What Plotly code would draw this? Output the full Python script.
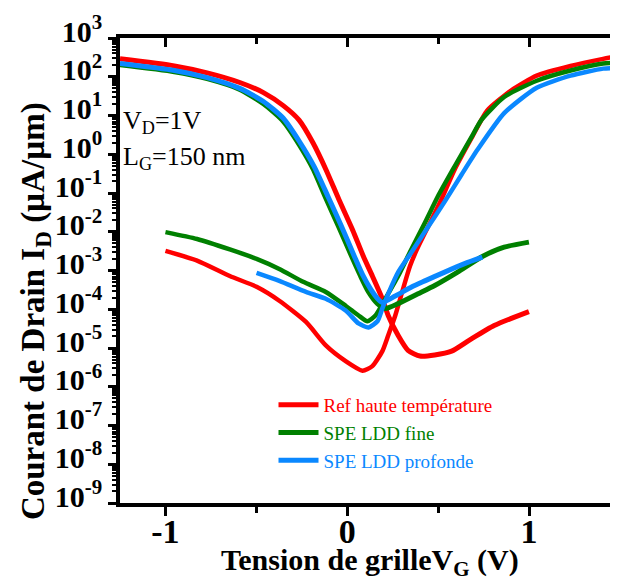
import plotly.graph_objects as go

# ---- data (V_G in V, I_D in uA/um) ----
red_a_x = [-1.25, -0.951, -0.771, -0.591, -0.461, -0.352, -0.265, -0.188, -0.117, -0.046, 0.030, 0.089, 0.138, 0.193, 0.225, 0.280, 0.334, 0.400, 0.481, 0.574, 0.672, 0.808, 0.999]
red_a_y = [290, 190, 126, 71, 39, 18, 7.6, 1.95, 0.40, 0.068, 0.011, 2.3e-3, 7.2e-4, 1.86e-4, 6.9e-5, 2.1e-5, 8.7e-6, 6.2e-6, 6.6e-6, 8.3e-6, 1.6e-5, 3.8e-5, 8.7e-5]

red_b_x = [-1.0, -0.826, -0.646, -0.499, -0.374, -0.227, -0.118, -0.009, 0.084, 0.138, 0.193, 0.225, 0.264, 0.302, 0.345, 0.383, 0.465, 0.525, 0.590, 0.683, 0.770, 0.901, 1.042, 1.228, 1.407, 1.500]
red_b_y = [3.2e-3, 1.8e-3, 7.2e-4, 3.8e-4, 1.66e-4, 4.7e-5, 1.17e-5, 4.6e-6, 2.6e-6, 3.4e-6, 8.3e-6, 2.1e-5, 6.9e-5, 2.8e-4, 1.3e-3, 3.5e-3, 2.1e-2, 8.1e-2, 0.40, 2.6, 13.5, 44, 107, 190, 290, 350]

green_a_x = [-1.25, -0.951, -0.771, -0.591, -0.461, -0.352, -0.265, -0.188, -0.117, -0.046, 0.030, 0.073, 0.117, 0.166, 0.209, 0.280, 0.389, 0.481, 0.607, 0.743, 0.863, 0.999]
green_a_y = [204, 135, 89, 47, 20, 7.1, 1.8, 0.42, 0.072, 0.013, 2.0e-3, 7.2e-4, 2.8e-4, 1.4e-4, 1.05e-4, 1.4e-4, 2.5e-4, 4.1e-4, 9.1e-4, 2.3e-3, 4.0e-3, 5.4e-3]

green_b_x = [-1.0, -0.826, -0.646, -0.499, -0.374, -0.243, -0.118, -0.009, 0.062, 0.111, 0.155, 0.209, 0.280, 0.345, 0.427, 0.498, 0.590, 0.683, 0.737, 0.863, 1.042, 1.228, 1.407, 1.500]
green_b_y = [9.8e-3, 6.5e-3, 3.5e-3, 2.0e-3, 1.1e-3, 5.1e-4, 2.8e-4, 1.23e-4, 6.9e-5, 4.9e-5, 6.9e-5, 1.86e-4, 7.2e-4, 3.0e-3, 1.7e-2, 8.1e-2, 0.48, 2.75, 7.6, 30, 79, 145, 219, 229]

blue_a_x = [-1.25, -0.951, -0.771, -0.591, -0.461, -0.352, -0.265, -0.182, -0.106, -0.035, 0.041, 0.084, 0.127, 0.166, 0.193, 0.264, 0.356, 0.427, 0.536, 0.645, 0.743]
blue_a_y = [219, 145, 95, 50, 23, 8.5, 2.2, 0.48, 0.081, 0.015, 2.2e-3, 7.8e-4, 3.4e-4, 1.9e-4, 1.5e-4, 2.2e-4, 3.8e-4, 5.4e-4, 9.1e-4, 1.5e-3, 2.2e-3]

blue_b_x = [-0.499, -0.374, -0.227, -0.118, -0.009, 0.062, 0.117, 0.166, 0.193, 0.225, 0.280, 0.345, 0.443, 0.536, 0.629, 0.716, 0.863, 1.042, 1.228, 1.407, 1.500]
blue_b_y = [8.7e-4, 5.4e-4, 2.8e-4, 1.86e-4, 9.3e-5, 4.3e-5, 3.4e-5, 4.9e-5, 1.05e-4, 2.5e-4, 9.1e-4, 2.6e-3, 1.3e-2, 6.0e-2, 0.30, 1.3, 11.5, 52, 107, 162, 170]

series_names = ["Ref haute température", "SPE LDD fine", "SPE LDD profonde"]
series_colors = ["#FF0000", "#008000", "#0A88FF"]

y_tickvals = [1e-9, 1e-8, 1e-7, 1e-6, 1e-5, 1e-4, 1e-3, 1e-2, 1e-1, 1e0, 1e1, 1e2, 1e3]
y_ticktext = ["10<sup>-9</sup>", "10<sup>-8</sup>", "10<sup>-7</sup>", "10<sup>-6</sup>", "10<sup>-5</sup>",
              "10<sup>-4</sup>", "10<sup>-3</sup>", "10<sup>-2</sup>", "10<sup>-1</sup>", "10<sup>0</sup>",
              "10<sup>1</sup>", "10<sup>2</sup>", "10<sup>3</sup>"]
x_tickvals = [-1, 0, 1]
x_ticktext = ["-1", "0", "1"]

FONT = "Liberation Serif, Times New Roman, serif"

fig = go.Figure()
curves = [
    (red_a_x, red_a_y, red_b_x, red_b_y),
    (green_a_x, green_a_y, green_b_x, green_b_y),
    (blue_a_x, blue_a_y, blue_b_x, blue_b_y),
]
legend_ids = ["legend", "legend2", "legend3"]
for (ax_, ay_, bx_, by_), name, col, lg in zip(curves, series_names, series_colors, legend_ids):
    fig.add_trace(go.Scatter(x=ax_, y=ay_, mode="lines", name=name, legendgroup=name, legend=lg,
                             line=dict(color=col, width=5, shape="spline", smoothing=0.6),
                             showlegend=True, hoverinfo="skip"))
    fig.add_trace(go.Scatter(x=bx_, y=by_, mode="lines", name=name, legendgroup=name, legend=lg,
                             line=dict(color=col, width=4.5, shape="spline", smoothing=0.6),
                             showlegend=False, hoverinfo="skip"))

# dummy trace for the mirrored (inward-tick) axes
fig.add_trace(go.Scatter(x=[], y=[], xaxis="x2", yaxis="y2", showlegend=False, hoverinfo="skip"))

legend_top = 0.252
legend_step = 28 / 468
legend_layout = {}
for i, (lg, col) in enumerate(zip(legend_ids, series_colors)):
    legend_layout[lg] = dict(x=0.307, y=legend_top - i * legend_step, xanchor="left", yanchor="top",
                             bgcolor="rgba(0,0,0,0)",
                             font=dict(family=FONT, size=19, color=col),
                             itemwidth=40)

fig.update_layout(
    width=618, height=580,
    margin=dict(l=112, r=2, t=27, b=85),
    paper_bgcolor="white", plot_bgcolor="white",
    font=dict(family=FONT, color="black"),
    showlegend=True,
    **legend_layout,
    xaxis=dict(range=[-1.25, 1.5], tickmode="array", tickvals=x_tickvals,
               ticktext=[f"<b>{t}</b>" for t in x_ticktext],
               ticks="outside", ticklen=9, tickwidth=3, tickcolor="black",
               minor=dict(dtick=0.5, tick0=0, ticks="outside", ticklen=6, tickwidth=3, tickcolor="black", showgrid=False),
               showline=True, linewidth=3.5, linecolor="black", mirror=True,
               showgrid=False, zeroline=False,
               tickfont=dict(family=FONT, size=34, color="black"), ticklabelstandoff=-14),
    yaxis=dict(type="log", range=[-9, 3], tickmode="array", tickvals=y_tickvals,
               ticktext=[f"<b>{t}</b>" for t in y_ticktext],
               ticks="outside", ticklen=8, tickwidth=3, tickcolor="black",
               minor=dict(dtick="D1", ticks="outside", ticklen=4, tickwidth=2, tickcolor="black", showgrid=False),
               showline=True, linewidth=3.5, linecolor="black", mirror=True,
               showgrid=False, zeroline=False,
               tickfont=dict(family=FONT, size=30, color="black"), ticklabelstandoff=0,
               ticklabelshift=-7, ticklabeloverflow="allow"),
    xaxis2=dict(overlaying="x", side="top", anchor="y", range=[-1.25, 1.5],
                tickmode="array", tickvals=x_tickvals, showticklabels=False,
                ticks="inside", ticklen=9, tickwidth=3, tickcolor="black",
                minor=dict(dtick=0.5, tick0=0, ticks="inside", ticklen=6, tickwidth=3, tickcolor="black", showgrid=False),
                showline=False, showgrid=False, zeroline=False),
    yaxis2=dict(overlaying="y", side="right", anchor="x", type="log", range=[-9, 3],
                tickmode="array", tickvals=y_tickvals, showticklabels=False,
                ticks="inside", ticklen=8, tickwidth=3, tickcolor="black",
                minor=dict(dtick="D1", ticks="inside", ticklen=4, tickwidth=2, tickcolor="black", showgrid=False),
                showline=False, showgrid=False, zeroline=False),
)

annotations = [
    dict(text="<b>Tension de grilleV<sub>G</sub> (V)</b>", xref="paper", yref="paper",
         x=(365 - 112) / 505, y=(495 - 554) / 468, xanchor="center", yanchor="middle",
         showarrow=False, font=dict(family=FONT, size=30, color="black")),
    dict(text="<b>Courant de Drain I<sub>D</sub> (µA/µm)</b>", xref="paper", yref="paper",
         x=(26 - 112) / 505, y=(495 - 302) / 468, xanchor="center", yanchor="middle",
         textangle=-90, showarrow=False, font=dict(family=FONT, size=33, color="black")),
    dict(text="V<sub>D</sub>=1V", xref="paper", yref="paper",
         x=(113 - 112) / 505, y=(495 - 112) / 468, xanchor="left", yanchor="middle",
         showarrow=False, font=dict(family=FONT, size=26, color="black")),
    dict(text="L<sub>G</sub>=150 nm", xref="paper", yref="paper",
         x=(113 - 112) / 505, y=(495 - 148) / 468, xanchor="left", yanchor="middle",
         showarrow=False, font=dict(family=FONT, size=26, color="black")),
]
fig.update_layout(annotations=annotations)

fig.write_html("out.html")
